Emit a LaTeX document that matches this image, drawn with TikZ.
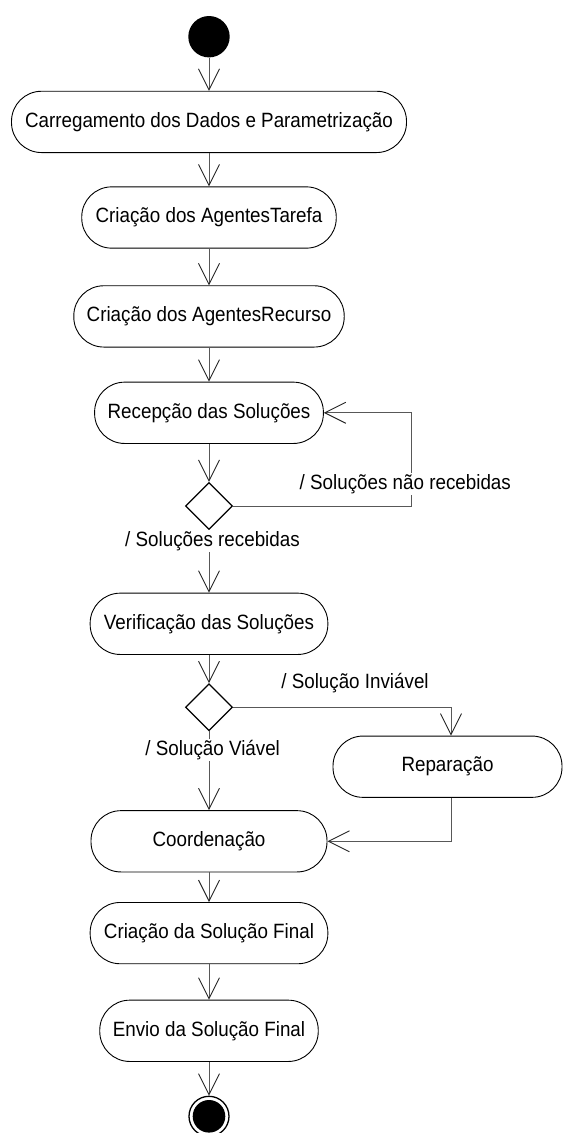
\documentclass[tikz,border=0pt]{standalone}
\usepackage{fontspec}
\setmainfont{Liberation Sans}
\usetikzlibrary{arrows.meta,shapes.geometric}
\definecolor{flowgray}{RGB}{88,88,88}
\newcommand\tallbox[1]{\scalebox{1}[1.1]{#1}}
\begin{document}
\begin{tikzpicture}[x=1pt,y=-1pt,
  every node/.style={font=\fontsize{18.8}{22}\selectfont},
  activity/.style={draw=black, line width=0.9pt, rounded corners=30pt,
    minimum height=61.3pt, inner sep=0pt, fill=white},
  decision/.style={draw=black, line width=1.2pt, diamond, aspect=1,
    minimum width=47pt, minimum height=47pt, inner sep=0pt, fill=white},
  initial/.style={circle, fill=black, minimum size=41.4pt, inner sep=0pt},
  final/.style={circle, draw=black, line width=1.3pt, minimum size=40pt, inner sep=0pt},
  flow/.style={draw=flowgray, line width=1pt,
    -{Straight Barb[length=21pt, width=21pt, line width=0.9pt, color=black!85]}},
  guard/.style={fill=white, inner sep=1.5pt}
]
\useasboundingbox (0,0) rectangle (563,1133);

% activity nodes
\node[initial] (start) at (209,36.7) {};
\node[activity, minimum width=395pt] (a1) at (209,121.9) {\tallbox{Carregamento dos Dados e Parametrização}};
\node[activity, minimum width=254.5pt] (a2) at (209,217.5) {\tallbox{Criação dos AgentesTarefa}};
\node[activity, minimum width=270.4pt] (a3) at (209,316.4) {\tallbox{Criação dos AgentesRecurso}};
\node[activity, minimum width=228.8pt] (a4) at (209,412.8) {\tallbox{Recepção das Soluções}};
\node[decision] (d1) at (209,506) {};
\node[activity, minimum width=237.7pt] (a5) at (209,623.8) {\tallbox{Verificação das Soluções}};
\node[decision] (d2) at (209,707.3) {};
\node[activity, minimum width=229pt] (rep) at (447.5,766.7) {\tallbox{Reparação}};
\node[activity, minimum width=236pt] (a6) at (209,841.3) {\tallbox{Coordenação}};
\node[activity, minimum width=237.7pt] (a7) at (209,933.1) {\tallbox{Criação da Solução Final}};
\node[activity, minimum width=218.5pt] (a8) at (209,1030.8) {\tallbox{Envio da Solução Final}};
\node[final] (stop) at (209,1116.3) {};
\fill[black] (stop.center) circle (16.3pt);

% transitions
\draw[flow] (start) -- (a1);
\draw[flow] (a1) -- (a2);
\draw[flow] (a2) -- (a3);
\draw[flow] (a3) -- (a4);
\draw[flow] (a4) -- (d1);
\draw[flow] (d1) -- (a5);
\draw[flow] (d1.east) -- ++(178.5,0) |- (a4.east);
\draw[flow] (a5) -- (d2);
\draw[flow] (d2.east) -| ([xshift=3.5pt]rep.north);
\draw[flow] (d2) -- (a6);
\draw[flow] ([xshift=3.5pt]rep.south) |- (a6.east);
\draw[flow] (a6) -- (a7);
\draw[flow] (a7) -- (a8);
\draw[flow] (a8) -- (stop);

% guard labels
\node[guard] (g1) at (212.5,541) {\tallbox{/ Soluções recebidas}};
\node[guard] (g2) at (405.3,484.3) {\tallbox{/ Soluções não recebidas}};
\node[guard] (g3) at (355,682.7) {\tallbox{/ Solução Inviável}};
\node[guard] (g4) at (212.7,750) {\tallbox{/ Solução Viável}};
\end{tikzpicture}
\end{document}
